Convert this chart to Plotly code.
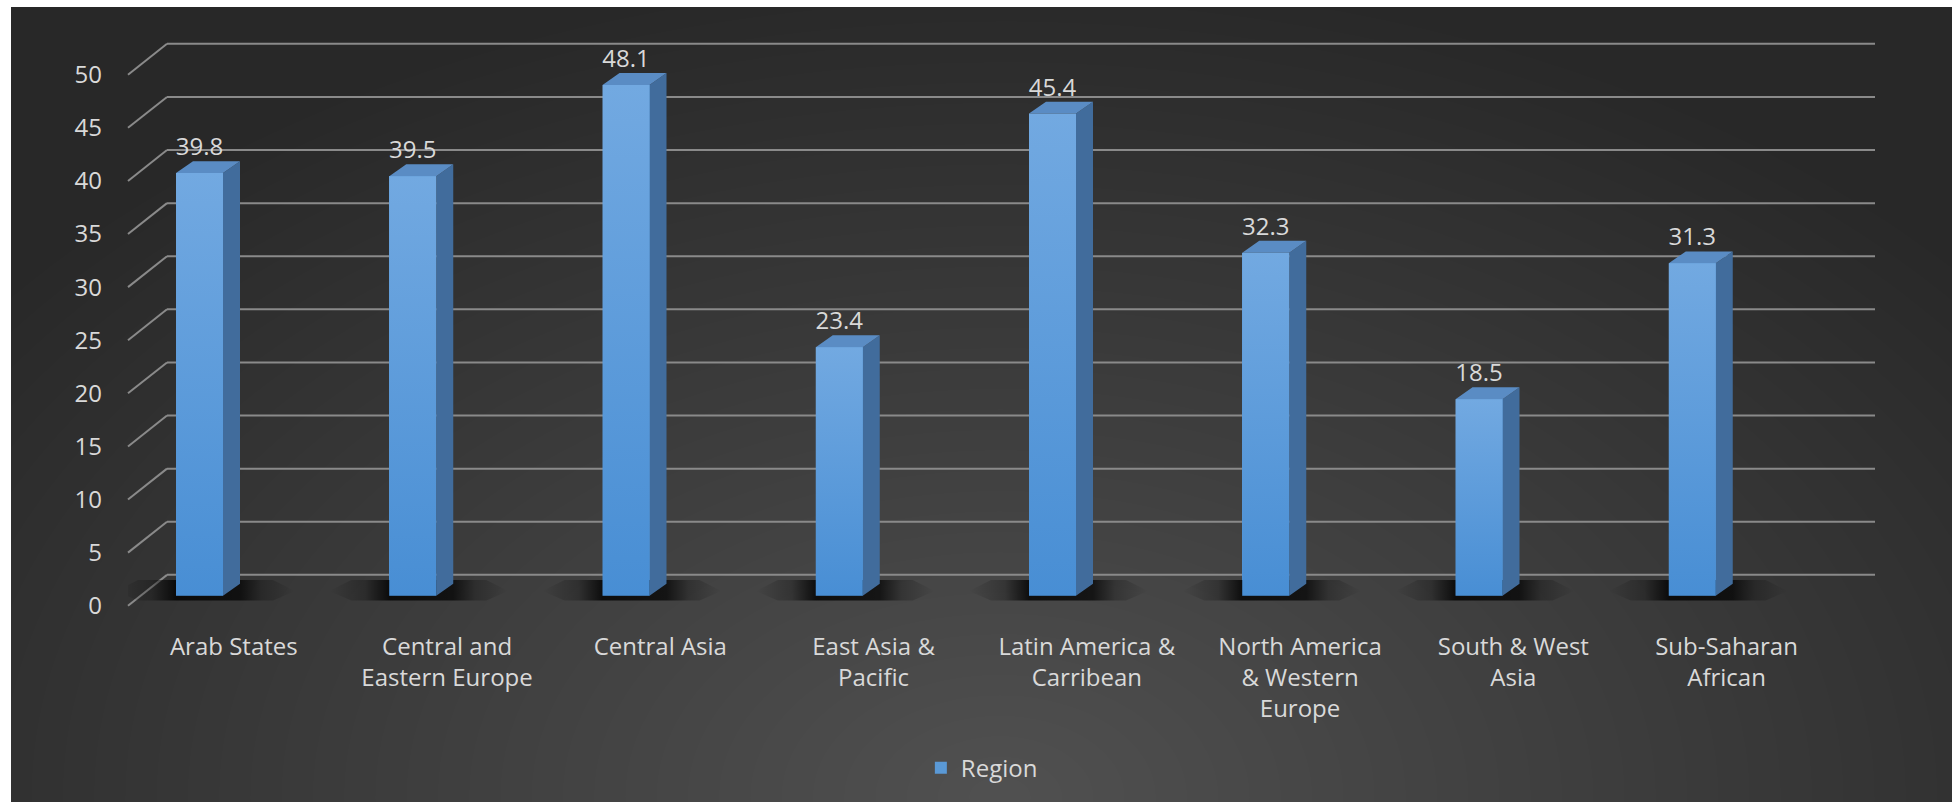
import plotly.graph_objects as go

# ---------------- data ----------------
categories = ["Arab States", "Central and Eastern Europe", "Central Asia", "East Asia & Pacific",
              "Latin America & Carribean", "North America & Western Europe", "South & West Asia",
              "Sub-Saharan African"]
tick_labels = ["Arab States", "Central and<br>Eastern Europe", "Central Asia", "East Asia &<br>Pacific",
               "Latin America &<br>Carribean", "North America<br>& Western<br>Europe", "South & West<br>Asia",
               "Sub-Saharan<br>African"]
values = [39.8, 39.5, 48.1, 23.4, 45.4, 32.3, 18.5, 31.3]
y_ticks = [0, 5, 10, 15, 20, 25, 30, 35, 40, 45, 50]
series_name = "Region"

# ---------------- layout geometry (pixels) ----------------
W, H = 1952, 805
def px_x(p): return p / W
def px_y(p): return 1 - p / H

SX = 213.25   # px per category
SY = 10.66    # px per value unit
TOP_PX, BOT_PX = 30, 620
BAR_ZERO, BACK_ZERO, FRONT_ZERO = 598, 577, 608
FRONT_LEFT, BACK_LEFT, RIGHT = 128, 167, 1875
BAR0_CENTER, LABEL0_CENTER = 199.5, 233.8

def yrange(zero_px):
    return [(zero_px - BOT_PX) / SY, (zero_px - TOP_PX) / SY]

def xrange(c0, left, right):
    return [(left - c0) / SX, (right - c0) / SX]

dom_y = [px_y(BOT_PX), px_y(TOP_PX)]
idx = list(range(len(categories)))

BAR_W = 47 / SX          # front face width (category units)
DX = 17 / SX             # depth offset x
DY = 12 / SY             # depth offset y (value units)
half = BAR_W / 2

FRONT_COL = "#5a99d6"
SIDE_COL = "#416c9c"
TOP_COL = "#5a8cc4"
GRID_COL = "#8a8a8a"
TEXT_COL = "#d9d9d9"
FONT = "Open Sans"

fig = go.Figure()

# front faces (bar trace; also supplies the legend entry)
fig.add_trace(go.Bar(x=idx, y=values, width=BAR_W, name=series_name, xaxis="x2", yaxis="y2",
                     marker=dict(color=FRONT_COL, line=dict(width=0)), showlegend=True))

# soft floor shadows around each bar base
SH_L, SH_R = 60 / SX, 55 / SX
taper = 22 / SX
for i in idx:
    L = i - half - SH_L
    R = i + half + DX + SH_R
    span = R - L
    a = SH_L / span
    b = (SH_L + BAR_W + DX) / span
    yt, yb, ym = DY + 0.35, -0.45, DY * 0.4
    fig.add_trace(go.Scatter(x=[L, L + taper, R - taper, R, R - taper, L + taper, L],
                             y=[ym, yt, yt, ym, yb, yb, ym],
                             xaxis="x2", yaxis="y2", mode="lines", fill="toself",
                             line=dict(width=0, color="rgba(0,0,0,0)"),
                             fillgradient=dict(type="horizontal",
                                               colorscale=[[0, "rgba(0,0,0,0)"],
                                                           [a * 0.6, "rgba(0,0,0,0.25)"],
                                                           [a, "rgba(0,0,0,0.8)"],
                                                           [b, "rgba(0,0,0,0.7)"],
                                                           [b + (1 - b) * 0.4, "rgba(0,0,0,0.25)"],
                                                           [1, "rgba(0,0,0,0)"]]),
                             showlegend=False, hoverinfo="skip"))

# side faces
sx, sy = [], []
for i, v in zip(idx, values):
    sx += [i + half, i + half + DX, i + half + DX, i + half, i + half, None]
    sy += [0, DY, v + DY, v, 0, None]
fig.add_trace(go.Scatter(x=sx, y=sy, xaxis="x2", yaxis="y2", mode="lines", fill="toself",
                         fillcolor=SIDE_COL, line=dict(width=0, color=SIDE_COL),
                         showlegend=False, hoverinfo="skip"))
# top faces
tx, ty = [], []
for i, v in zip(idx, values):
    tx += [i - half, i + half, i + half + DX, i - half + DX, i - half, None]
    ty += [v, v, v + DY, v + DY, v, None]
fig.add_trace(go.Scatter(x=tx, y=ty, xaxis="x2", yaxis="y2", mode="lines", fill="toself",
                         fillcolor=TOP_COL, line=dict(width=0, color=TOP_COL),
                         showlegend=False, hoverinfo="skip"))
# gradient shading of each front face (lighter at the top)
for i, v in zip(idx, values):
    fig.add_trace(go.Scatter(x=[i - half, i + half, i + half, i - half, i - half], y=[0, 0, v, v, 0],
                             xaxis="x2", yaxis="y2", mode="lines", fill="toself",
                             line=dict(width=0, color="rgba(0,0,0,0)"),
                             fillgradient=dict(type="vertical",
                                               colorscale=[[0, "rgb(72,142,212)"],
                                                           [1, "rgb(114,169,225)"]]),
                             showlegend=False, hoverinfo="skip"))
# data labels
fig.add_trace(go.Scatter(x=idx, y=[v + DY for v in values], xaxis="x2", yaxis="y2", mode="text",
                         text=[f"{v}" for v in values], textposition="top center",
                         textfont=dict(family=FONT, size=24, color=TEXT_COL),
                         cliponaxis=False, showlegend=False, hoverinfo="skip"))

shapes = []
# dark chart background with soft radial light
shapes.append(dict(type="rect", xref="paper", yref="paper", x0=px_x(11), x1=1, y0=0, y1=px_y(7),
                   fillcolor="#282828", line=dict(width=0), layer="below"))
cx, cy = 1000, 800
n = 40
for k in range(n):
    f = 1 - k / n
    rx, ry = 1250 * f, 820 * f
    shapes.append(dict(type="circle", xref="paper", yref="paper",
                       x0=px_x(cx - rx), x1=px_x(cx + rx), y0=px_y(cy + ry), y1=px_y(cy - ry),
                       fillcolor="rgba(255,255,255,0.0075)", line=dict(width=0), layer="below"))
# back-wall gridlines and diagonal floor/wall connectors
off = (FRONT_ZERO - BACK_ZERO) / SY
for t in y_ticks:
    shapes.append(dict(type="line", xref="paper", yref="y3", x0=px_x(BACK_LEFT), x1=px_x(RIGHT),
                       y0=t + off, y1=t + off, line=dict(color=GRID_COL, width=2), layer="below"))
    shapes.append(dict(type="line", xref="paper", yref="y3", x0=px_x(FRONT_LEFT), x1=px_x(BACK_LEFT),
                       y0=t, y1=t + off, line=dict(color=GRID_COL, width=2), layer="below"))

fig.update_layout(
    width=W, height=H, margin=dict(l=0, r=0, t=0, b=0),
    paper_bgcolor="white", plot_bgcolor="rgba(0,0,0,0)",
    font=dict(family=FONT, size=24, color=TEXT_COL),
    shapes=shapes,
    bargap=0,
    xaxis=dict(domain=[px_x(BACK_LEFT), px_x(RIGHT)], range=xrange(LABEL0_CENTER, BACK_LEFT, RIGHT),
               tickvals=idx, ticktext=tick_labels, showgrid=False, zeroline=False, showline=False,
               ticks="", tickfont=dict(family=FONT, size=24, color=TEXT_COL), anchor="y",
               ticklabelstandoff=12),
    yaxis=dict(domain=dom_y, range=yrange(BACK_ZERO), tickvals=y_ticks, showticklabels=False,
               showgrid=False, zeroline=False, showline=False, anchor="x"),
    yaxis3=dict(domain=dom_y, range=yrange(FRONT_ZERO), tickvals=y_ticks, overlaying="y",
                anchor="free", position=px_x(FRONT_LEFT), side="left", showgrid=False, zeroline=False,
                showline=False, ticks="", ticklabelstandoff=26,
                tickfont=dict(family=FONT, size=24, color=TEXT_COL)),
    xaxis2=dict(domain=[px_x(FRONT_LEFT), px_x(RIGHT)], range=xrange(BAR0_CENTER, FRONT_LEFT, RIGHT),
                visible=False, anchor="y2"),
    yaxis2=dict(domain=dom_y, range=yrange(BAR_ZERO), visible=False, anchor="x2"),
    legend=dict(orientation="h", x=0.503, xanchor="center", y=px_y(771), yanchor="middle",
                bgcolor="rgba(0,0,0,0)", font=dict(family=FONT, size=24, color=TEXT_COL)),
)

fig.write_html("out.html")
